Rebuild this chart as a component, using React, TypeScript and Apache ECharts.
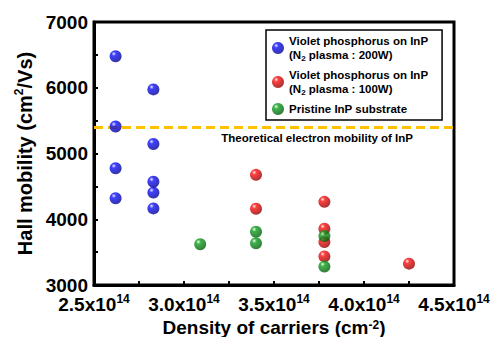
import React, { useEffect, useRef } from "react";
import * as echarts from "echarts";

// x values in units of 1e14 cm^-2, y values in cm^2/Vs
const blue200W: [number, number][] = [
  [2.62, 6480], [2.62, 5410], [2.62, 4775], [2.62, 4320],
  [2.83, 5975], [2.83, 5145], [2.83, 4570], [2.83, 4405], [2.83, 4165],
];
const red100W: [number, number][] = [
  [3.4, 4675], [3.4, 4160],
  [3.78, 4265], [3.78, 3855], [3.78, 3655], [3.78, 3435],
  [4.25, 3325],
];
const greenPristine: [number, number][] = [
  [3.09, 3620], [3.4, 3810], [3.4, 3635], [3.78, 3745], [3.78, 3280],
];
const theoreticalMobility = 5400;
const seriesNames = [
  "Violet phosphorus on InP\n(N{sub|2} plasma : 200W)",
  "Violet phosphorus on InP\n(N{sub|2} plasma : 100W)",
  "Pristine InP substrate",
];
const xTicks = { min: 2.5, max: 4.5, interval: 0.5 };
const yTicks = { min: 3000, max: 7000, interval: 1000 };

const sphere = (light: string, base: string, dark: string) =>
  new echarts.graphic.RadialGradient(0.35, 0.3, 0.75, [
    { offset: 0, color: light },
    { offset: 0.25, color: base },
    { offset: 1, color: dark },
  ]);

export default function App() {
  const ref = useRef<HTMLDivElement>(null);
  useEffect(() => {
    if (!ref.current) return;
    const chart = echarts.init(ref.current, null, { renderer: "svg" });
    const font = "Arial, 'Liberation Sans', sans-serif";
    const colors = [
      sphere("#e8e8ff", "#1010ff", "#00008a"),
      sphere("#ffe8e8", "#ff1010", "#8a0000"),
      sphere("#e8ffe8", "#10a020", "#005a0a"),
    ];
    const mk = (i: number, data: [number, number][], extra: any = {}) => ({
      type: "scatter",
      name: seriesNames[i],
      data,
      symbol: "circle",
      symbolSize: 12,
      itemStyle: { color: colors[i] },
      z: 5,
      ...extra,
    });
    const supRich = (size: number, lh: number) => ({
      fontFamily: font, fontWeight: "bold", fontSize: size, color: "#000",
      lineHeight: lh, verticalAlign: "top",
    });
    const tick = { inside: true, length: 4, lineStyle: { width: 2, color: "#000" } };
    chart.setOption({
      animation: false,
      textStyle: { fontFamily: font },
      grid: {
        left: 94, right: 39, top: 22, bottom: 52,
        outerBoundsMode: "none",
        containLabel: false,
        show: true, borderColor: "#000", borderWidth: 3,
        backgroundColor: "transparent",
      },
      legend: {
        orient: "vertical",
        left: 266, top: 30,
        backgroundColor: "#fff",
        borderColor: "#000", borderWidth: 1.5,
        padding: [4, 14, 4, 6],
        itemGap: 6,
        itemWidth: 12, itemHeight: 12,
        icon: "circle",
        textStyle: {
          fontFamily: font, fontWeight: "bold", fontSize: 11.5, color: "#000",
          lineHeight: 14,
          rich: {
            sub: { fontFamily: font, fontSize: 8, fontWeight: "bold", color: "#000", verticalAlign: "bottom", lineHeight: 9 },
          },
        },
        data: seriesNames,
      },
      xAxis: {
        type: "value",
        min: xTicks.min, max: xTicks.max, interval: xTicks.interval,
        name: "{b|Density of carriers (cm}{sup|-2}{b|)}",
        nameLocation: "middle",
        nameGap: 28,
        nameTextStyle: {
          fontFamily: font, fontWeight: "bold", fontSize: 19, color: "#000",
          rich: {
            b: { fontFamily: font, fontWeight: "bold", fontSize: 19, color: "#000", lineHeight: 18 },
            sup: supRich(12, 8),
          },
        },
        axisLine: { show: true, lineStyle: { color: "#000", width: 3 } },
        axisTick: tick,
        minorTick: { show: true, splitNumber: 2, length: 4, lineStyle: { width: 2, color: "#000" } },
        splitLine: { show: false },
        axisLabel: {
          margin: 8,
          formatter: (v: number) => `{b|${v.toFixed(1)}x10}{s|14}`,
          rich: {
            b: { fontFamily: font, fontWeight: "bold", fontSize: 19, color: "#000", lineHeight: 22 },
            s: supRich(12, 12),
          },
        },
      },
      yAxis: {
        type: "value",
        min: yTicks.min, max: yTicks.max, interval: yTicks.interval,
        name: "{b|Hall mobility (cm}{sup|2}{b|/Vs)}",
        nameLocation: "middle",
        nameGap: 56,
        nameTextStyle: {
          fontFamily: font, fontWeight: "bold", fontSize: 20, color: "#000",
          rich: {
            b: { fontFamily: font, fontWeight: "bold", fontSize: 20, color: "#000", lineHeight: 23 },
            sup: supRich(12, 12),
          },
        },
        axisLine: { show: true, lineStyle: { color: "#000", width: 3 } },
        axisTick: tick,
        minorTick: { show: true, splitNumber: 2, length: 4, lineStyle: { width: 2, color: "#000" } },
        splitLine: { show: false },
        axisLabel: {
          margin: 6,
          formatter: (v: number) => String(v),
          fontFamily: font, fontWeight: "bold", fontSize: 19, color: "#000",
        },
      },
      series: [
        mk(0, blue200W, {
          markLine: {
            silent: true,
            symbol: "none",
            lineStyle: { color: "#FFC000", width: 3, type: [9, 5] },
            label: {
              show: true,
              position: "insideEndBottom",
              formatter: "Theoretical electron mobility of InP",
              fontFamily: font, fontWeight: "bold", fontSize: 11.5, color: "#000",
              padding: [0, 36, 0, 0],
            },
            data: [{ yAxis: theoreticalMobility }],
          },
        }),
        mk(1, red100W),
        mk(2, greenPristine),
      ],
    });
    return () => chart.dispose();
  }, []);
  return (
    <div
      ref={ref}
      style={{ position: "absolute", left: 0, top: 0, width: 493, height: 337 }}
    />
  );
}
